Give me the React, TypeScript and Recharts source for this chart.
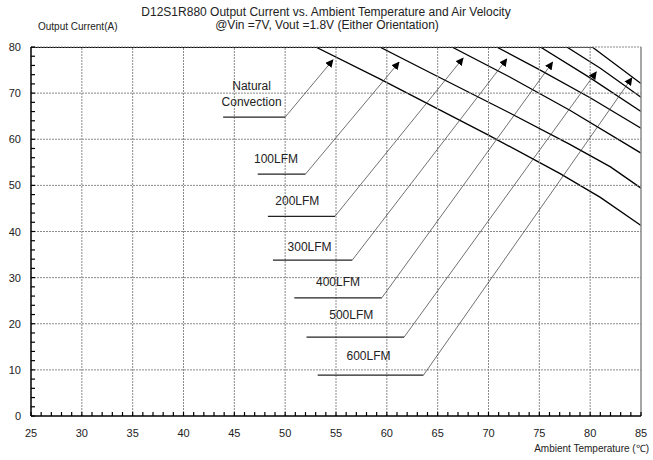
import React from 'react';
import { LineChart, Line, XAxis, YAxis, ReferenceLine, ReferenceDot } from 'recharts';

// derating curves: ambient temperature (C) vs output current (A)
const ncTemp = [25, 53.0, 59.3, 70, 77, 81, 85];
const ncCurrent = [80, 80, 73.1, 60.9, 52.6, 47.4, 41.3];
const lfm100Temp = [25, 59.3, 65, 72, 78, 82, 85];
const lfm100Current = [80, 80, 73.6, 65.8, 58.9, 54.0, 49.4];
const lfm200Temp = [25, 66.4, 72, 78, 85];
const lfm200Current = [80, 80, 73.6, 66.3, 57.0];
const lfm300Temp = [25, 70.8, 75, 80, 85];
const lfm300Current = [80, 80, 75.1, 69.0, 62.4];
const lfm400Temp = [25, 75.1, 80, 85];
const lfm400Current = [80, 80, 73.3, 66.0];
const lfm500Temp = [25, 77.7, 81, 85];
const lfm500Current = [80, 80, 75.4, 69.1];
const lfm600Temp = [25, 80.2, 85];
const lfm600Current = [80, 80, 72.1];

const xTickLabels = [25, 30, 35, 40, 45, 50, 55, 60, 65, 70, 75, 80, 85];
const yTickLabels = [0, 10, 20, 30, 40, 50, 60, 70, 80];
const xMinorTicks = Array.from({ length: 61 }, (_, i) => 25 + i);
const yMinorTicks = Array.from({ length: 41 }, (_, i) => i * 2);

// callouts: label lines, label centre, leader start/end, arrow tip
const calloutLabels = [['Natural', 'Convection'], ['100LFM'], ['200LFM'], ['300LFM'], ['400LFM'], ['500LFM'], ['600LFM']];
const calloutTextX = [46.7, 49.1, 51.2, 52.4, 55.2, 56.5, 58.2];
const calloutTextY = [71.5, 55.7, 46.6, 36.6, 29.0, 21.9, 13.0];
const leaderStartX = [43.9, 47.3, 48.3, 48.8, 50.9, 52.1, 53.2];
const leaderBendX = [50.0, 52.0, 54.9, 56.6, 59.5, 61.7, 63.6];
const leaderY = [64.8, 52.45, 43.3, 33.8, 25.6, 17.1, 8.85];
const arrowX = [54.7, 61.2, 67.5, 71.8, 76.3, 80.6, 84.1];
const arrowY = [77.2, 76.7, 77.6, 77.4, 76.7, 74.6, 73.3];

const zip = (t: number[], c: number[]) => t.map((x, i) => ({ x, y: c[i] }));

const series = [
  zip(ncTemp, ncCurrent),
  zip(lfm100Temp, lfm100Current),
  zip(lfm200Temp, lfm200Current),
  zip(lfm300Temp, lfm300Current),
  zip(lfm400Temp, lfm400Current),
  zip(lfm500Temp, lfm500Current),
  zip(lfm600Temp, lfm600Current),
];

const font = '"Liberation Sans", Arial, sans-serif';

const XTick = (props: any) => {
  const { x, y, payload } = props;
  const major = xTickLabels.includes(payload.value);
  return (
    <g>
      <line x1={x} y1={y} x2={x} y2={y - 4} stroke="#000" strokeWidth={1.2} />
      {major && (
        <text x={x} y={y + 21} textAnchor="middle" fontSize={11} fill="#222" fontFamily={font}>
          {payload.value}
        </text>
      )}
    </g>
  );
};

const YTick = (props: any) => {
  const { x, y, payload } = props;
  const major = yTickLabels.includes(payload.value);
  return (
    <g>
      <line x1={x} y1={y} x2={x + 4} y2={y} stroke="#000" strokeWidth={1.2} />
      {major && (
        <text x={x - 10} y={y + 4} textAnchor="end" fontSize={11} fill="#222" fontFamily={font}>
          {payload.value}
        </text>
      )}
    </g>
  );
};

const App: React.FC = () => {
  return (
    <div style={{ position: 'absolute', left: 0, top: 0, width: 653, height: 460, background: '#fff', fontFamily: font }}>
      <svg width={0} height={0} style={{ position: 'absolute' }}>
        <defs>
          <marker id="arrowHead" viewBox="0 0 10 10" refX="9" refY="5" markerWidth="8" markerHeight="8" markerUnits="userSpaceOnUse" orient="auto">
            <path d="M0,0 L10,5 L0,10 z" fill="#000" />
          </marker>
        </defs>
      </svg>
      <div style={{ position: 'absolute', left: 0, top: 6, width: 652, textAlign: 'center', fontSize: 12, color: '#222', lineHeight: '13px' }}>
        D12S1R880 Output Current vs. Ambient Temperature and Air Velocity
      </div>
      <div style={{ position: 'absolute', left: 0, top: 19, width: 654, textAlign: 'center', fontSize: 12, color: '#222', lineHeight: '13px' }}>
        @Vin =7V, Vout =1.8V (Either Orientation)
      </div>
      <div style={{ position: 'absolute', left: 38, top: 21, fontSize: 10, color: '#222', lineHeight: '12px' }}>
        Output Current(A)
      </div>
      <div style={{ position: 'absolute', right: 4, top: 443, fontSize: 10, color: '#222', lineHeight: '12px' }}>
        Ambient Temperature (℃)
      </div>
      <LineChart width={653} height={460} margin={{ top: 47, right: 12, bottom: 14, left: 0 }}>
        <XAxis
          dataKey="x"
          type="number"
          domain={[25, 85]}
          ticks={xMinorTicks}
          interval={0}
          tickSize={0}
          tickMargin={0}
          tickLine={false}
          tick={(p: any) => <XTick {...p} />}
          axisLine={{ stroke: '#000', strokeWidth: 1.5 }}
          height={30}
          allowDataOverflow
        />
        <YAxis
          dataKey="y"
          type="number"
          domain={[0, 80]}
          ticks={yMinorTicks}
          interval={0}
          tickSize={0}
          tickMargin={0}
          tickLine={false}
          tick={(p: any) => <YTick {...p} />}
          axisLine={{ stroke: '#000', strokeWidth: 1.5 }}
          width={31}
          allowDataOverflow
        />
        {series.map((d, i) => (
          <Line
            key={'s' + i}
            data={d}
            dataKey="y"
            type="linear"
            stroke="#000"
            strokeWidth={1.3}
            dot={false}
            activeDot={false}
            isAnimationActive={false}
          />
        ))}
        {xTickLabels.slice(1, -1).map((v) => (
          <ReferenceLine
            key={'gx' + v}
            ifOverflow="visible"
            segment={[
              { x: v, y: 0 },
              { x: v, y: 80 },
            ]}
            stroke="#8a8a8a"
            strokeDasharray="2 1"
            strokeWidth={1}
          />
        ))}
        {yTickLabels.slice(1).map((v) => (
          <ReferenceLine
            key={'gy' + v}
            ifOverflow="visible"
            segment={[
              { x: 25, y: v },
              { x: 85, y: v },
            ]}
            stroke="#8a8a8a"
            strokeDasharray="2 1"
            strokeWidth={1}
          />
        ))}
        {calloutLabels.map((_, i) => (
          <ReferenceLine
            key={'h' + i}
            segment={[
              { x: leaderStartX[i], y: leaderY[i] },
              { x: leaderBendX[i], y: leaderY[i] },
            ]}
            stroke="#222"
            strokeWidth={1.2}
          />
        ))}
        {calloutLabels.map((_, i) => (
          <ReferenceLine
            key={'d' + i}
            segment={[
              { x: leaderBendX[i], y: leaderY[i] },
              { x: arrowX[i], y: arrowY[i] },
            ]}
            stroke="#333"
            strokeWidth={0.7}
            markerEnd="url(#arrowHead)"
          />
        ))}
        <ReferenceLine
          ifOverflow="visible"
          segment={[
            { x: 85, y: 0 },
            { x: 85, y: 80 },
          ]}
          stroke="#888"
          strokeWidth={1.5}
        />
        {calloutLabels.map((lines, i) =>
          lines.map((txt, j) => (
            <ReferenceDot
              key={'t' + i + '-' + j}
              x={calloutTextX[i]}
              y={calloutTextY[i] - j * 3.3}
              r={0}
              fill="none"
              stroke="none"
              label={{ value: txt, position: 'center', fontSize: 12, fill: '#222', fontFamily: font }}
            />
          ))
        )}
      </LineChart>
    </div>
  );
};

export default App;
